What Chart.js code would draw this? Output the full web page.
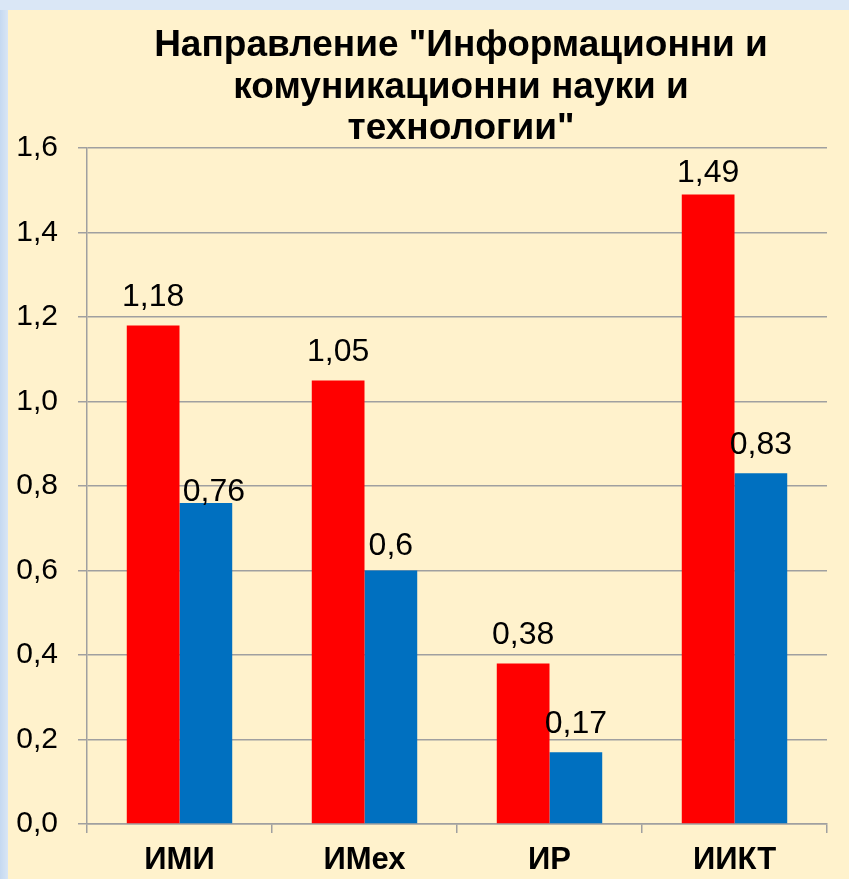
<!DOCTYPE html>
<html>
<head>
<meta charset="utf-8">
<script src="https://cdn.jsdelivr.net/npm/chart.js@4/dist/chart.umd.min.js"></script>
<style>
  html, body { margin: 0; padding: 0; }
  body {
    width: 849px; height: 879px; overflow: hidden;
    background: linear-gradient(to right, #C5D9F1 0px, #D9E6F5 8px);
    position: relative;
  }
  #wrap {
    position: absolute; left: 8px; top: 10px; width: 841px; height: 869px;
    background: #FFF2CC;
  }
  #topband { position: absolute; left: 0; top: 0; width: 849px; height: 10px; background: #DAE7F6; }
</style>
</head>
<body>
<div id="topband"></div>
<div id="wrap"><canvas id="c" width="841" height="869"></canvas></div>
<script>
const titleLines = ['Направление "Информационни и', 'комуникационни науки и', 'технологии"'];
const categories = ['ИМИ', 'ИМех', 'ИР', 'ИИКТ'];
const seriesRed = [1.18, 1.05, 0.38, 1.49];
const seriesBlue = [0.76, 0.6, 0.17, 0.83];
const yTicks = [0, 0.2, 0.4, 0.6, 0.8, 1.0, 1.2, 1.4, 1.6];

const fmtComma = (v, digits) => {
  const s = digits === undefined ? String(v) : v.toFixed(digits);
  return s.replace('.', ',');
};

const titlePlugin = {
  id: 'customTitle',
  afterDraw(chart) {
    const ctx = chart.ctx;
    ctx.save();
    ctx.fillStyle = '#000';
    ctx.font = 'bold 37px "Liberation Sans", Arial, sans-serif';
    ctx.textAlign = 'center';
    ctx.textBaseline = 'alphabetic';
    const cx = 453;
    titleLines.forEach((t, i) => ctx.fillText(t, cx, 46 + i * 41.5));
    ctx.restore();
  }
};

const labelNudge = { '1-0': { dx: 8, dy: 17 }, '0-3': { dx: 0, dy: 7 }, '1-1': { dx: 0, dy: 4 } };

const dataLabelPlugin = {
  id: 'dataLabels',
  afterDatasetsDraw(chart) {
    const ctx = chart.ctx;
    ctx.save();
    ctx.fillStyle = '#000';
    ctx.font = '32px "Liberation Sans", Arial, sans-serif';
    ctx.textAlign = 'center';
    ctx.textBaseline = 'middle';
    chart.data.datasets.forEach((ds, di) => {
      const meta = chart.getDatasetMeta(di);
      meta.data.forEach((bar, i) => {
        const n = labelNudge[di + '-' + i] || { dx: 0, dy: 0 };
        ctx.fillText(fmtComma(ds.data[i]), bar.x + n.dx, bar.y - 28 + n.dy);
      });
    });
    ctx.restore();
  }
};

new Chart(document.getElementById('c'), {
  type: 'bar',
  data: {
    labels: categories,
    datasets: [
      { data: seriesRed, backgroundColor: '#FF0000', borderWidth: 0 },
      { data: seriesBlue, backgroundColor: '#0070C0', borderWidth: 0 }
    ]
  },
  options: {
    responsive: false,
    animation: false,
    devicePixelRatio: 1,
    layout: { padding: { top: 138, right: 22, bottom: 0, left: 0 } },
    plugins: { legend: { display: false }, title: { display: false }, tooltip: { enabled: false } },
    datasets: { bar: { categoryPercentage: 0.57, barPercentage: 1.0 } },
    scales: {
      x: {
        offset: true,
        grid: { display: true, drawOnChartArea: false, offset: true, tickLength: 9, color: '#A0A0A0', lineWidth: 1.5 },
        border: { display: true, color: '#A0A0A0', width: 1.5 },
        ticks: { color: '#000', padding: 9, font: { family: '"Liberation Sans", Arial, sans-serif', size: 31, weight: 'bold' } },
        afterFit(scale) { scale.height = 55; }
      },
      y: {
        min: 0, max: 1.6,
        afterBuildTicks(scale) { scale.ticks = yTicks.map(v => ({ value: v })); },
        grid: { color: '#A0A0A0', lineWidth: 1.5, tickLength: 9 },
        border: { display: true, color: '#A0A0A0', width: 1.5 },
        ticks: { color: '#000', padding: 20, font: { family: '"Liberation Sans", Arial, sans-serif', size: 30 },
          callback: (v) => fmtComma(v, 1) },
        afterFit(scale) { scale.width = 79; }
      }
    }
  },
  plugins: [titlePlugin, dataLabelPlugin]
});
</script>
</body>
</html>
